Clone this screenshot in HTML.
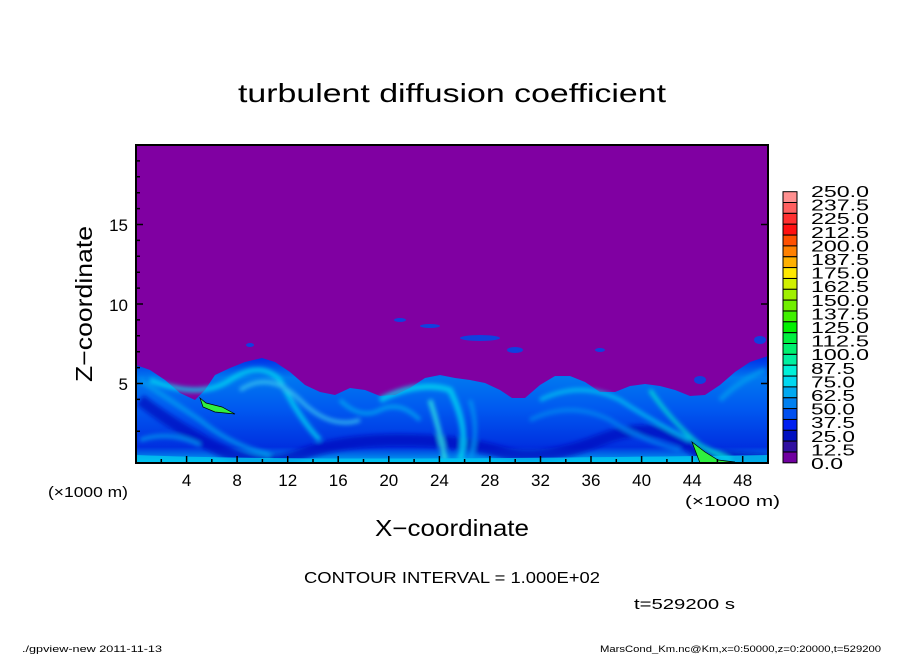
<!DOCTYPE html>
<html><head><meta charset="utf-8"><style>
html,body{margin:0;padding:0;background:#fff}
svg text{font-family:"Liberation Sans","DejaVu Sans",sans-serif;fill:#000}
</style></head><body>
<svg width="904" height="654" viewBox="0 0 904 654" xmlns="http://www.w3.org/2000/svg">
<defs>
<linearGradient id="g1" x1="0" y1="0" x2="0" y2="1">
<stop offset="0" stop-color="#0028e8"/>
<stop offset="0.2" stop-color="#0078f0"/>
<stop offset="0.5" stop-color="#0058f0"/>
<stop offset="0.85" stop-color="#0030e0"/>
<stop offset="1" stop-color="#00b0f0"/>
</linearGradient>
<filter id="bl"><feGaussianBlur stdDeviation="2"/></filter>
<clipPath id="pc"><rect x="136" y="145" width="632" height="318"/></clipPath>
</defs>
<text x="452" y="102" font-size="26" text-anchor="middle" textLength="428" lengthAdjust="spacingAndGlyphs">turbulent diffusion coefficient</text>
<rect x="136" y="145" width="632" height="318" fill="#8000a2"/>
<g clip-path="url(#pc)">
<path d="M136 365 L150 370 L165 380 L180 393 L195 400 L205 390 L215 375 L230 368 L245 362 L262 358 L275 362 L290 372 L305 385 L320 392 L335 395 L350 388 L365 390 L380 396 L395 395 L410 388 L425 378 L440 375 L455 378 L470 380 L485 383 L500 390 L512 398 L525 398 L540 385 L555 376 L570 376 L585 382 L600 392 L615 392 L630 386 L645 384 L660 386 L675 390 L690 396 L705 395 L720 385 L735 372 L750 362 L768 356 L768 463 L136 463 Z" fill="url(#g1)"/>
<g filter="url(#bl)" fill="none" opacity="0.75">
<path d="M140 400 Q180 430 220 450 T300 455 T400 440 T500 452 T600 440 T700 455 L768 460" stroke="#0010c0" stroke-width="12"/>
<path d="M140 380 Q170 400 200 420 Q230 445 270 455" stroke="#00a0f0" stroke-width="5"/>
<path d="M150 380 Q200 400 230 380 Q260 360 280 380 Q300 420 320 440" stroke="#00e0f0" stroke-width="5"/>
<path d="M240 390 Q270 370 300 400 Q330 430 360 420" stroke="#40d0f0" stroke-width="4"/>
<path d="M340 400 Q360 420 380 410 Q400 400 420 420" stroke="#00b0f0" stroke-width="4"/>
<path d="M380 400 Q420 380 450 390 Q470 430 460 460" stroke="#00e0f0" stroke-width="6"/>
<path d="M430 400 Q440 430 445 460" stroke="#30f0e0" stroke-width="5"/>
<path d="M470 400 Q480 430 470 460" stroke="#00a0f0" stroke-width="4"/>
<path d="M540 400 Q580 380 620 400 Q650 420 690 440" stroke="#00d0f0" stroke-width="4"/>
<path d="M530 420 Q570 400 610 420 Q640 440 680 450" stroke="#0090f0" stroke-width="4"/>
<path d="M650 390 Q670 420 700 445 L730 460" stroke="#00f0d0" stroke-width="4"/>
<path d="M720 400 Q740 380 765 370" stroke="#00a0f0" stroke-width="5"/>
<path d="M140 440 Q170 430 200 445" stroke="#00a0f0" stroke-width="4"/>
</g>
<path d="M136 455 Q300 462 768 455 L768 463 L136 463Z" fill="#00c8f0" opacity="0.8"/>
<path d="M200 398 L203 407 L215 412 L235 414 L222 407 L206 403 Z" fill="#30f040" stroke="#000" stroke-width="0.7"/>
<path d="M692 442 L705 452 L718 460 L735 462 L700 463 Z" fill="#30f040" stroke="#000" stroke-width="0.7"/>
<g fill="#1040e0">
<ellipse cx="480" cy="338" rx="20" ry="3"/><ellipse cx="515" cy="350" rx="8" ry="3"/>
<ellipse cx="430" cy="326" rx="10" ry="2"/><ellipse cx="400" cy="320" rx="6" ry="2"/>
<ellipse cx="600" cy="350" rx="5" ry="2"/><ellipse cx="250" cy="345" rx="4" ry="2"/>
<ellipse cx="700" cy="380" rx="6" ry="4"/><ellipse cx="760" cy="340" rx="6" ry="4"/>
</g>
</g>
<rect x="136" y="145" width="632" height="318" fill="none" stroke="#000" stroke-width="2"/>
<g stroke="#000" stroke-width="1.5">
<path d="M186.6 463v-7M237.1 463v-7M287.7 463v-7M338.2 463v-7M388.8 463v-7M439.4 463v-7M489.9 463v-7M540.5 463v-7M591 463v-7M641.6 463v-7M692.2 463v-7M742.7 463v-7"/>
<path d="M161.3 463v-4M211.8 463v-4M262.4 463v-4M313 463v-4M363.5 463v-4M414.1 463v-4M464.6 463v-4M515.2 463v-4M565.8 463v-4M616.3 463v-4M666.9 463v-4M717.4 463v-4"/>
<path d="M136 383.5h7M136 304h7M136 224.5h7M768 383.5h-7M768 304h-7M768 224.5h-7"/>
<path d="M136 431.2h4M136 399.4h4M136 367.6h4M136 351.7h4M136 335.8h4M136 319.9h4M136 288.1h4M136 272.2h4M136 256.3h4M136 240.4h4M136 208.6h4M136 192.7h4M136 176.8h4M136 160.9h4"/>
</g>
<g font-size="17" text-anchor="middle">
<text x="186.6" y="486">4</text><text x="237.1" y="486">8</text><text x="287.7" y="486">12</text><text x="338.2" y="486">16</text><text x="388.8" y="486">20</text><text x="439.4" y="486">24</text><text x="489.9" y="486">28</text><text x="540.5" y="486">32</text><text x="591" y="486">36</text><text x="641.6" y="486">40</text><text x="692.2" y="486">44</text><text x="742.7" y="486">48</text>
</g>
<g font-size="17" text-anchor="end">
<text x="128" y="390">5</text><text x="128" y="311">10</text><text x="128" y="231">15</text>
</g>
<text x="48" y="497" font-size="15" textLength="80" lengthAdjust="spacingAndGlyphs">(×1000 m)</text>
<text x="685" y="506" font-size="15" textLength="95" lengthAdjust="spacingAndGlyphs">(×1000 m)</text>
<text x="452" y="536" font-size="23" text-anchor="middle" textLength="154" lengthAdjust="spacingAndGlyphs">X−coordinate</text>
<text transform="translate(92 304) rotate(-90)" font-size="23" text-anchor="middle" textLength="156" lengthAdjust="spacingAndGlyphs">Z−coordinate</text>
<g stroke="#000" stroke-width="1">
<rect x="783" y="191.7" width="14" height="10.84" fill="#ff9090"/>
<rect x="783" y="202.5" width="14" height="10.84" fill="#ff6060"/>
<rect x="783" y="213.4" width="14" height="10.84" fill="#ff3030"/>
<rect x="783" y="224.2" width="14" height="10.84" fill="#ff1010"/>
<rect x="783" y="235.1" width="14" height="10.84" fill="#ff5000"/>
<rect x="783" y="245.9" width="14" height="10.84" fill="#ff8000"/>
<rect x="783" y="256.8" width="14" height="10.84" fill="#ffb000"/>
<rect x="783" y="267.6" width="14" height="10.84" fill="#ffe800"/>
<rect x="783" y="278.5" width="14" height="10.84" fill="#d0f000"/>
<rect x="783" y="289.3" width="14" height="10.84" fill="#a0f000"/>
<rect x="783" y="300.1" width="14" height="10.84" fill="#70f000"/>
<rect x="783" y="311" width="14" height="10.84" fill="#40f000"/>
<rect x="783" y="321.8" width="14" height="10.84" fill="#00f000"/>
<rect x="783" y="332.7" width="14" height="10.84" fill="#00f040"/>
<rect x="783" y="343.5" width="14" height="10.84" fill="#00f070"/>
<rect x="783" y="354.4" width="14" height="10.84" fill="#00f0a0"/>
<rect x="783" y="365.2" width="14" height="10.84" fill="#00f0d8"/>
<rect x="783" y="376.1" width="14" height="10.84" fill="#00d8f0"/>
<rect x="783" y="386.9" width="14" height="10.84" fill="#00a8f0"/>
<rect x="783" y="397.8" width="14" height="10.84" fill="#0080f0"/>
<rect x="783" y="408.6" width="14" height="10.84" fill="#0050f0"/>
<rect x="783" y="419.5" width="14" height="10.84" fill="#0020f0"/>
<rect x="783" y="430.3" width="14" height="10.84" fill="#0010c0"/>
<rect x="783" y="441.1" width="14" height="10.84" fill="#3010a0"/>
<rect x="783" y="452" width="14" height="10.84" fill="#7000a0"/>
</g>
<g font-size="16">
<text x="811" y="197" textLength="58" lengthAdjust="spacingAndGlyphs">250.0</text><text x="811" y="210.6" textLength="58" lengthAdjust="spacingAndGlyphs">237.5</text><text x="811" y="224.2" textLength="58" lengthAdjust="spacingAndGlyphs">225.0</text><text x="811" y="237.8" textLength="58" lengthAdjust="spacingAndGlyphs">212.5</text><text x="811" y="251.4" textLength="58" lengthAdjust="spacingAndGlyphs">200.0</text><text x="811" y="265" textLength="58" lengthAdjust="spacingAndGlyphs">187.5</text><text x="811" y="278.6" textLength="58" lengthAdjust="spacingAndGlyphs">175.0</text><text x="811" y="292.2" textLength="58" lengthAdjust="spacingAndGlyphs">162.5</text><text x="811" y="305.8" textLength="58" lengthAdjust="spacingAndGlyphs">150.0</text><text x="811" y="319.4" textLength="58" lengthAdjust="spacingAndGlyphs">137.5</text><text x="811" y="333" textLength="58" lengthAdjust="spacingAndGlyphs">125.0</text><text x="811" y="346.6" textLength="58" lengthAdjust="spacingAndGlyphs">112.5</text><text x="811" y="360.2" textLength="58" lengthAdjust="spacingAndGlyphs">100.0</text><text x="811" y="373.8" textLength="44" lengthAdjust="spacingAndGlyphs">87.5</text><text x="811" y="387.4" textLength="44" lengthAdjust="spacingAndGlyphs">75.0</text><text x="811" y="401" textLength="44" lengthAdjust="spacingAndGlyphs">62.5</text><text x="811" y="414.6" textLength="44" lengthAdjust="spacingAndGlyphs">50.0</text><text x="811" y="428.2" textLength="44" lengthAdjust="spacingAndGlyphs">37.5</text><text x="811" y="441.8" textLength="44" lengthAdjust="spacingAndGlyphs">25.0</text><text x="811" y="455.4" textLength="44" lengthAdjust="spacingAndGlyphs">12.5</text><text x="811" y="469" textLength="32" lengthAdjust="spacingAndGlyphs">0.0</text>
</g>
<text x="304" y="583" font-size="16" textLength="296" lengthAdjust="spacingAndGlyphs">CONTOUR INTERVAL = 1.000E+02</text>
<text x="634" y="609" font-size="15" textLength="101" lengthAdjust="spacingAndGlyphs">t=529200 s</text>
<text x="22" y="652" font-size="9" textLength="140" lengthAdjust="spacingAndGlyphs">./gpview-new  2011-11-13</text>
<text x="600" y="652" font-size="9" textLength="281" lengthAdjust="spacingAndGlyphs">MarsCond_Km.nc@Km,x=0:50000,z=0:20000,t=529200</text>
</svg>
</body></html>
